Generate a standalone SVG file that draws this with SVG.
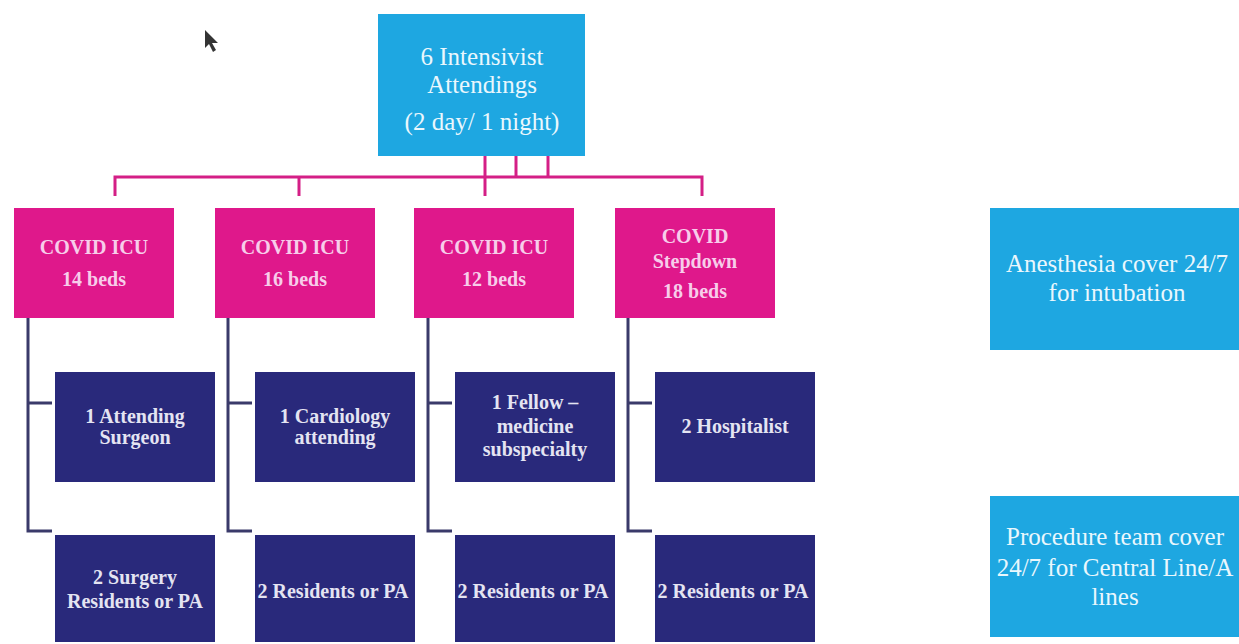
<svg xmlns="http://www.w3.org/2000/svg" width="1239" height="644" viewBox="0 0 1239 644">
<style>
.blue{fill:#1ea7e1}
.pink{fill:#df188b}
.navy{fill:#29297b}
.tb{font-family:"Liberation Serif","Times New Roman",serif;fill:#eaf7fd;text-anchor:middle;font-size:25px}
.tp{font-family:"Liberation Serif","Times New Roman",serif;font-weight:bold;fill:#f7cdea;text-anchor:middle;font-size:20px}
.tn{font-family:"Liberation Serif","Times New Roman",serif;font-weight:bold;fill:#e4e4f2;text-anchor:middle;font-size:20px}
.mag{stroke:#d41f86;stroke-width:3;fill:none}
.dk{stroke:#3a3a6a;stroke-width:3;fill:none}
</style>
<defs>
<clipPath id="clipProc"><rect x="990" y="496" width="249" height="141"/></clipPath>
</defs>
<rect width="1239" height="644" fill="#ffffff"/>
<path d="M205,30 L205,48 L209,44 L213,52 L216,50 L212,43 L218,43 Z" fill="#111" opacity="0.85"/>
<g id="connectors">
<path class="mag" d="M115,196 V177 H702 V196"/>
<path class="mag" d="M299,177 V196"/>
<path class="mag" d="M485,156 V196"/>
<path class="mag" d="M516,156 V177"/>
<path class="mag" d="M548,156 V177"/>
<path class="dk" d="M28,318 V531 H52 M28,403 H52"/>
<path class="dk" d="M228,318 V531 H252 M228,403 H252"/>
<path class="dk" d="M428,318 V531 H452 M428,403 H452"/>
<path class="dk" d="M628,318 V531 H652 M628,403 H652"/>
</g>
<g id="top">
<rect class="blue" x="378" y="14" width="207" height="142"/>
<text class="tb" x="482" y="65">6 Intensivist</text>
<text class="tb" x="482" y="93">Attendings</text>
<text class="tb" x="482" y="130">(2 day/ 1 night)</text>
</g>
<g id="icu1">
<rect class="pink" x="14" y="208" width="160" height="110"/>
<text class="tp" x="94" y="254">COVID ICU</text>
<text class="tp" x="94" y="286">14 beds</text>
</g>
<g id="icu2">
<rect class="pink" x="215" y="208" width="160" height="110"/>
<text class="tp" x="295" y="254">COVID ICU</text>
<text class="tp" x="295" y="286">16 beds</text>
</g>
<g id="icu3">
<rect class="pink" x="414" y="208" width="160" height="110"/>
<text class="tp" x="494" y="254">COVID ICU</text>
<text class="tp" x="494" y="286">12 beds</text>
</g>
<g id="stepdown">
<rect class="pink" x="615" y="208" width="160" height="110"/>
<text class="tp" x="695" y="243">COVID</text>
<text class="tp" x="695" y="268">Stepdown</text>
<text class="tp" x="695" y="298">18 beds</text>
</g>
<g id="att1">
<rect class="navy" x="55" y="372" width="160" height="110"/>
<text class="tn" x="135" y="423">1 Attending</text>
<text class="tn" x="135" y="444">Surgeon</text>
</g>
<g id="att2">
<rect class="navy" x="255" y="372" width="160" height="110"/>
<text class="tn" x="335" y="423">1 Cardiology</text>
<text class="tn" x="335" y="444">attending</text>
</g>
<g id="att3">
<rect class="navy" x="455" y="372" width="160" height="110"/>
<text class="tn" x="535" y="409">1 Fellow –</text>
<text class="tn" x="535" y="433">medicine</text>
<text class="tn" x="535" y="456">subspecialty</text>
</g>
<g id="att4">
<rect class="navy" x="655" y="372" width="160" height="110"/>
<text class="tn" x="735" y="433">2 Hospitalist</text>
</g>
<g id="res1">
<rect class="navy" x="55" y="535" width="160" height="107"/>
<text class="tn" x="135" y="584">2 Surgery</text>
<text class="tn" x="135" y="608">Residents or PA</text>
</g>
<g id="res2">
<rect class="navy" x="255" y="535" width="160" height="107"/>
<text class="tn" x="333" y="598">2 Residents or PA</text>
</g>
<g id="res3">
<rect class="navy" x="455" y="535" width="160" height="107"/>
<text class="tn" x="533" y="598">2 Residents or PA</text>
</g>
<g id="res4">
<rect class="navy" x="655" y="535" width="160" height="107"/>
<text class="tn" x="733" y="598">2 Residents or PA</text>
</g>
<g id="anesthesia">
<rect class="blue" x="990" y="208" width="260" height="142"/>
<text class="tb" x="1117" y="272">Anesthesia cover 24/7</text>
<text class="tb" x="1117" y="301">for intubation</text>
</g>
<g id="procedure">
<rect class="blue" x="990" y="496" width="260" height="141"/>
<g clip-path="url(#clipProc)">
<text class="tb" x="1115" y="545">Procedure team cover</text>
<text class="tb" x="1115" y="576">24/7 for Central Line/A</text>
<text class="tb" x="1115" y="605">lines</text>
</g>
</g>
</svg>
